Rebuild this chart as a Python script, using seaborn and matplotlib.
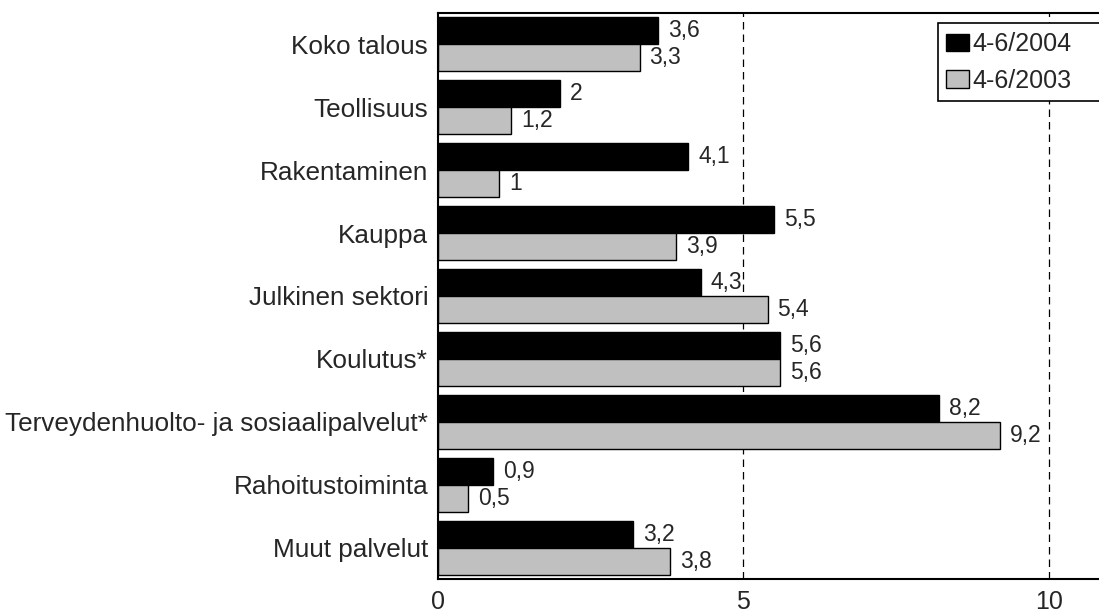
import pandas as pd
import matplotlib
matplotlib.use('Agg')
import matplotlib.pyplot as plt
import seaborn as sns

# Toimialat ja arvot
toimialat = ['Koko talous', 'Teollisuus', 'Rakentaminen', 'Kauppa', 'Julkinen sektori',
             'Koulutus*', 'Terveydenhuolto- ja sosiaalipalvelut*', 'Rahoitustoiminta',
             'Muut palvelut']
v2004 = [3.6, 2.0, 4.1, 5.5, 4.3, 5.6, 8.2, 0.9, 3.2]
v2003 = [3.3, 1.2, 1.0, 3.9, 5.4, 5.6, 9.2, 0.5, 3.8]
sarjat = ['4-6/2004', '4-6/2003']
varit = ['#000000', '#c0c0c0']

df = pd.DataFrame({
    'Toimiala': toimialat * 2,
    'Arvo': v2004 + v2003,
    'Jakso': [sarjat[0]] * len(toimialat) + [sarjat[1]] * len(toimialat),
})

sns.set_style('white')
plt.rcParams['font.family'] = ['Liberation Sans', 'DejaVu Sans']

fig = plt.figure(figsize=(10.99, 6.16), dpi=100)
ax = fig.add_axes([0.3985, 0.0596, 0.6015, 0.9198])

ax.axvline(5, color='black', linestyle=(0, (6, 4)), linewidth=0.9, zorder=0)
ax.axvline(10, color='black', linestyle=(0, (6, 4)), linewidth=0.9, zorder=0)

sns.barplot(data=df, x='Arvo', y='Toimiala', hue='Jakso', orient='h',
            palette=varit, width=0.86, edgecolor='black', linewidth=1,
            saturation=1, ax=ax, zorder=2)


def muotoile(v):
    s = ('%g' % v).replace('.', ',')
    return s


for cont, arvot in zip(ax.containers, [v2004, v2003]):
    ax.bar_label(cont, labels=[muotoile(v) for v in arvot], padding=7, fontsize=16.5)

ax.set_xlim(0, 10.82)
ax.set_ylim(8.5, -0.5)
ax.set_xticks([0, 5, 10])
ax.set_xlabel('')
ax.set_ylabel('')
ax.tick_params(axis='x', length=0, labelsize=18, pad=8)
ax.tick_params(axis='y', length=0, labelsize=18.8, pad=7)
for s in ['left', 'bottom', 'top']:
    ax.spines[s].set_visible(True)
    ax.spines[s].set_color('black')
    ax.spines[s].set_linewidth(1.5)
ax.spines['right'].set_visible(False)

h, l = ax.get_legend_handles_labels()
leg = ax.legend(h, l, loc='upper left', bbox_to_anchor=(0.756, 0.981, 0.26, 0),
                mode='expand', fontsize=18,
                frameon=True, fancybox=False, edgecolor='black', framealpha=1,
                handlelength=0.9, handleheight=0.7, handletextpad=0.15,
                borderpad=0.35, labelspacing=0.5, borderaxespad=0)
leg.get_frame().set_linewidth(1.2)

plt.savefig('out.png', dpi=100)
